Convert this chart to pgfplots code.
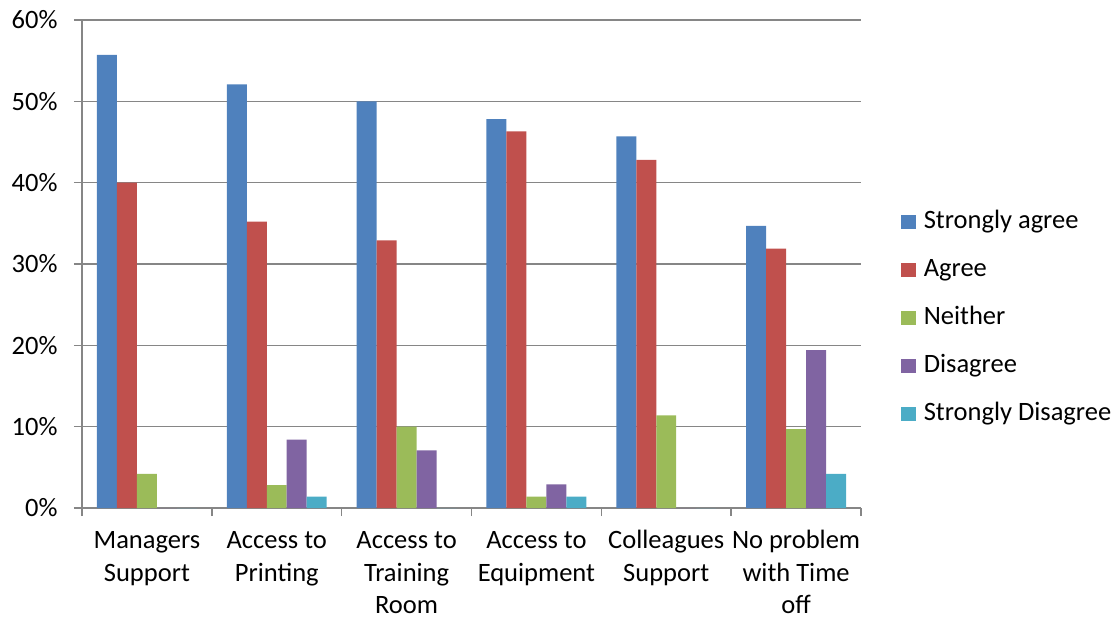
\documentclass[border=0pt]{standalone}
\usepackage{pgfplots}
\pgfplotsset{compat=1.18}
\usepackage{pgfplotstable}
\usepackage{fontspec}
\setmainfont{Carlito}

\definecolor{sagree}{HTML}{4F81BD}
\definecolor{agree}{HTML}{C0504D}
\definecolor{neither}{HTML}{9BBB59}
\definecolor{disagree}{HTML}{8064A2}
\definecolor{sdisagree}{HTML}{4BACC6}
\definecolor{gridgray}{HTML}{868686}

% share of responses (%) per statement
\pgfplotstableread{
x    sa    ag    ne    di    sd
0.5  55.7  40.0  4.2   0     0
1.5  52.1  35.2  2.8   8.4   1.4
2.5  50.0  32.9  10.0  7.1   0
3.5  47.8  46.3  1.4   2.9   1.4
4.5  45.7  42.8  11.4  0     0
5.5  34.7  31.9  9.7   19.4  4.2
}\survey

\newcommand{\labelfont}{\fontsize{26.5}{32.5}\selectfont}
% fixed-height strut so that every first line sits on the same baseline
\newcommand{\fl}{\rule{0pt}{21pt}}

\begin{document}
\begin{tikzpicture}
\begin{axis}[
  at={(0pt,0pt)}, anchor=south west,
  scale only axis,
  width=779pt, height=488pt,
  xmin=0, xmax=6, ymin=0, ymax=60,
  enlarge x limits=false,
  ybar=0pt, bar width=0.1538,
  axis x line*=bottom, axis y line*=left,
  axis line style={gridgray, line width=1.5pt, -},
  tick align=outside,
  major tick length=8pt,
  tick style={gridgray, line width=1.5pt},
  ymajorgrids,
  grid style={gridgray, line width=1.6pt},
  ytick={0,10,...,60},
  yticklabels={0\%,10\%,20\%,30\%,40\%,50\%,60\%},
  xtick={0,1,...,6},
  x tick label as interval,
  xticklabels={\fl Managers\\Support, \fl Access to\\Printing, \fl Access to\\Training\\Room, \fl Access to\\Equipment, \fl Colleagues\\Support, \fl No problem\\with Time\\off},
  xticklabel style={align=center, font=\labelfont, anchor=north, yshift=-8pt},
  yticklabel style={font=\labelfont, xshift=-13pt},
  legend style={draw=none, at={(1.047,0.389)}, anchor=west,
    font=\labelfont, row sep=24pt,
    nodes={inner ysep=0pt, inner xsep=8pt, text height=18pt, text depth=6pt}},
  legend cell align=left,
  legend image code/.code={\fill[#1] (0pt,-7pt) rectangle (15pt,7pt);},
]
\addplot[fill=sagree, draw=none] table[x=x, y=sa] {\survey};
\addplot[fill=agree, draw=none] table[x=x, y=ag] {\survey};
\addplot[fill=neither, draw=none] table[x=x, y=ne] {\survey};
\addplot[fill=disagree, draw=none] table[x=x, y=di] {\survey};
\addplot[fill=sdisagree, draw=none] table[x=x, y=sd] {\survey};
\legend{Strongly agree, Agree, Neither, Disagree, Strongly Disagree}
\end{axis}
\pgfresetboundingbox
\path (-82pt,-111pt) rectangle (1038pt,508pt);
\end{tikzpicture}
\end{document}
